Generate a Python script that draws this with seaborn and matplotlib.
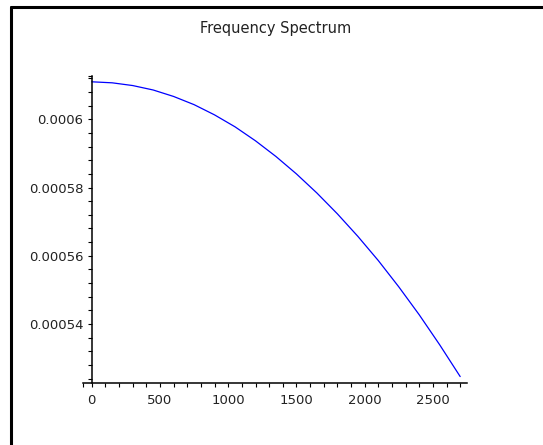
import numpy as np
import pandas as pd
import seaborn as sns
import matplotlib.pyplot as plt
from matplotlib.lines import Line2D
from matplotlib.ticker import FixedLocator, FuncFormatter

# values
freq = [0, 150, 300, 450, 600, 750, 900, 1050, 1200, 1350, 1500, 1650,
        1800, 1950, 2100, 2250, 2400, 2550, 2700]
amplitude = [0.0006110, 0.0006107, 0.0006099, 0.0006086, 0.0006067, 0.0006043,
             0.0006013, 0.0005978, 0.0005937, 0.0005891, 0.0005840, 0.0005784,
             0.0005723, 0.0005657, 0.0005586, 0.0005509, 0.0005427, 0.0005339,
             0.0005246]

x_major = [0, 500, 1000, 1500, 2000, 2500]
y_major = [0.00054, 0.00056, 0.00058, 0.0006]

sns.set_style("ticks")
plt.rcParams['font.family'] = ['DejaVu Sans']

fig = plt.figure(figsize=(5.43, 4.45), dpi=100)
ax = fig.add_axes([83.3 / 543, 1 - 382.7 / 445, (467 - 83.3) / 543, (382.7 - 76) / 445])

df = pd.DataFrame({"freq": freq, "amp": amplitude})
sns.lineplot(data=df, x="freq", y="amp", color="#0000ff", linewidth=0.9, ax=ax)

xlo, xhi = -62, 2750
ylo, yhi = 0.0005228, 0.0006127
ax.set_xlim(xlo, xhi)
ax.set_ylim(ylo, yhi)
ax.set_xlabel("")
ax.set_ylabel("")

for s in ["top", "right"]:
    ax.spines[s].set_visible(False)
ax.spines["left"].set_position(("data", 0))
for s in ["left", "bottom"]:
    ax.spines[s].set_linewidth(1.1)
    ax.spines[s].set_color("black")

x_minor = [v for v in range(100, 2800, 100) if v % 500 != 0] + [xlo]
y_minor = [0.000524 + 4e-6 * i for i in range(23) if (0.000524 + 4e-6 * i) <= yhi]
y_minor = [v for v in y_minor if min(abs(v - m) for m in y_major) > 1e-7] + [yhi]

ax.xaxis.set_major_locator(FixedLocator(x_major))
ax.xaxis.set_minor_locator(FixedLocator(x_minor))
ax.yaxis.set_major_locator(FixedLocator(y_major))
ax.yaxis.set_major_formatter(FuncFormatter(lambda v, p: f"{v:.5f}".rstrip("0")))
ax.yaxis.set_minor_locator(FixedLocator(y_minor))

ax.tick_params(which="both", direction="out", length=3, width=0.8, color="black",
               labelsize=9.5, labelcolor="#222222")
ax.tick_params(axis="x", which="major", pad=5)
ax.tick_params(axis="y", which="major", pad=3)

fig.text(276 / 543, 1 - 29 / 445, "Frequency Spectrum", ha="center", va="center",
         fontsize=10.5, color="#222222")

# frame around the plot region (left and top edges)
fig.add_artist(Line2D([11 / 543, 11 / 543], [0, 1 - 7 / 445], color="black", linewidth=2.2))
fig.add_artist(Line2D([11 / 543, 1], [1 - 7 / 445, 1 - 7 / 445], color="black", linewidth=2.2))

fig.savefig("out.png", dpi=100)
